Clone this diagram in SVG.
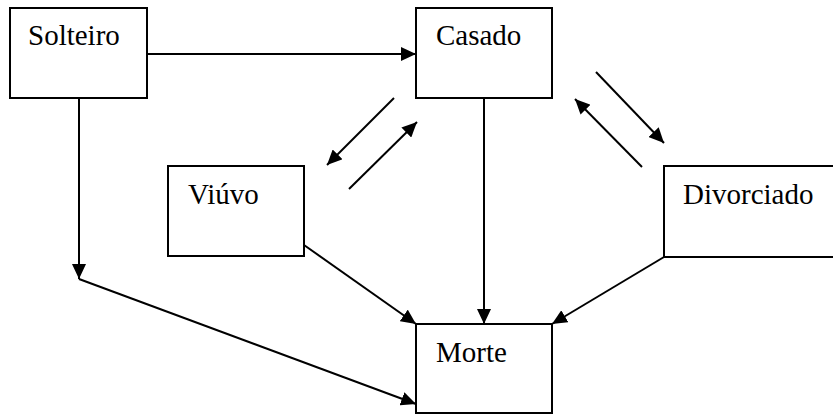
<svg xmlns="http://www.w3.org/2000/svg" width="833" height="414" viewBox="0 0 833 414">
<style>
.box{fill:#fff;stroke:#000;stroke-width:2}
.lbl{font-family:'Liberation Serif','Times New Roman',serif;font-size:29px;fill:#000}
.con line{stroke:#000;stroke-width:2;fill:none;marker-end:url(#ah)}
</style>
<defs>
<marker id="ah" markerUnits="userSpaceOnUse" markerWidth="16" markerHeight="14" refX="15" refY="7" orient="auto">
<path d="M0,0 L15,7 L0,14 Z" fill="#000"/>
</marker>
</defs>
<g id="solteiro"><rect class="box" x="10" y="8" width="137" height="90"/><text class="lbl" x="28" y="45">Solteiro</text></g>
<g id="casado"><rect class="box" x="416" y="8" width="136" height="90"/><text class="lbl" x="436" y="45">Casado</text></g>
<g id="viuvo"><rect class="box" x="168" y="166" width="136" height="90"/><text class="lbl" x="188" y="204">Viúvo</text></g>
<g id="divorciado"><rect class="box" x="664" y="166" width="180" height="91"/><text class="lbl" x="683" y="204">Divorciado</text></g>
<g id="morte"><rect class="box" x="416" y="324" width="136" height="89"/><text class="lbl" x="436" y="362">Morte</text></g>
<g id="connectors" class="con">
<line x1="147" y1="54" x2="416" y2="54"/>
<line x1="79" y1="98" x2="79" y2="279"/>
<line x1="79" y1="279" x2="416" y2="404"/>
<line x1="484" y1="98" x2="484" y2="324"/>
<line x1="304" y1="245" x2="416" y2="324"/>
<line x1="664" y1="257" x2="552" y2="324"/>
<line x1="394" y1="98" x2="327" y2="165"/>
<line x1="349" y1="189" x2="417" y2="122"/>
<line x1="596" y1="72" x2="664" y2="143"/>
<line x1="642" y1="167" x2="575" y2="99"/>
</g>
</svg>
